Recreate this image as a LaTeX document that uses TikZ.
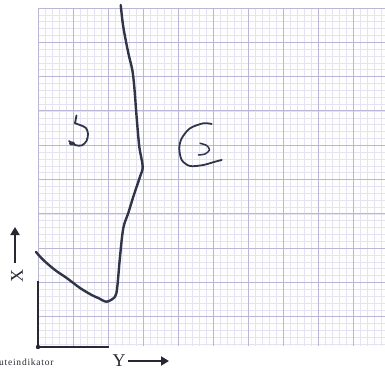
\documentclass[tikz,border=0pt]{standalone}
\usepackage{fontspec}
\setmainfont{Liberation Serif}
\usetikzlibrary{arrows.meta}
\definecolor{gmajor}{RGB}{186,183,214}
\definecolor{gminor}{RGB}{229,226,241}
\definecolor{ink}{RGB}{48,52,72}
\definecolor{axisink}{RGB}{40,40,50}
\tikzset{
  minorline/.style={gminor, line width=0.5pt},
  majorline/.style={gmajor, line width=0.8pt},
  penline/.style={ink, line width=2.4pt, line cap=round, line join=round},
  letterpen/.style={ink, line width=1.8pt, line cap=round, line join=round},
  axisline/.style={axisink, line width=2.4pt},
  labelarrow/.style={axisink, line width=1.8pt, -{Triangle[length=8pt,width=9pt]}},
}
\begin{document}
\begin{tikzpicture}[x=1pt,y=-1pt]
\useasboundingbox (0,0) rectangle (385,371);
\fill[white] (0,0) rectangle (385,371);
\fill[white!98!gminor] (38,8) rectangle (385,346);
% minor grid
\foreach \i in {0,...,49} {
  \draw[minorline] ({38+7*\i},8) -- ({38+7*\i},346);
}
\foreach \j in {0,...,49} {
  \draw[minorline] (38,{8+6.86*\j}) -- (385,{8+6.86*\j});
}
% major grid
\foreach \i in {0,...,9} {
  \draw[majorline] ({38+35*\i},8) -- ({38+35*\i},346);
}
\foreach \j in {0,...,9} {
  \draw[majorline] (38,{8+34.3*\j}) -- (385,{8+34.3*\j});
}
% curve
\draw[penline] plot[smooth, tension=0.5] coordinates {
 (120.7,5) (123.3,27) (128.3,53) (132.3,70) (134.3,87) (136.7,118)
 (139.3,146.7) (142.7,166.7) (140,176.7) (133.3,196.7) (128.3,213)
 (123.3,228) (120,256.7) (117.3,286.7) (115,296.7) (106.7,301.7)
 (98.3,298) (91.7,295) (80,288) (66.7,278) (55,270) (43.3,260) (36,252)};
% handwritten S
\draw[letterpen] plot[smooth, tension=0.5] coordinates {
 (75,123.3) (80,125) (86,128) (88,134) (86.5,141) (81.7,145.5) (75,145) (69,141)};
\draw[letterpen] (76.5,115.5) -- (75,123.3);
\fill[ink] (72,143.5) ellipse (3pt and 2pt);
% handwritten G
\draw[letterpen] plot[smooth, tension=0.5] coordinates {
 (211.7,124) (203.3,123.3) (190,128.3) (181.7,138.3) (179.3,148.3)
 (181.7,160) (190,166) (203.3,165) (215,161.7) (221.7,160)};
\draw[letterpen, line width=1.5pt] plot[smooth, tension=0.5] coordinates {
 (200,143.3) (206.7,145.5) (209.5,150) (205,154) (198.3,155)};
% axes
\coordinate (o) at (38,347);
\coordinate (xtop) at (38,281);
\coordinate (yend) at (109,347);
\draw[axisline] (xtop) -- (o) -- (yend);
\fill[axisink] (o) circle (2.2pt);
% labels
\node[font=\fontsize{18}{18}\selectfont, text=axisink, inner sep=0pt, rotate=90] (xlab) at (17,276) {X};
\coordinate (xa1) at (15,263);
\coordinate (xa2) at (15,227);
\draw[labelarrow] (xa1) -- (xa2);
\node[font=\fontsize{18}{18}\selectfont, text=axisink, inner sep=0pt] (ylab) at (119,361) {Y};
\coordinate (ya1) at (128,361);
\coordinate (ya2) at (169,361);
\draw[labelarrow] (ya1) -- (ya2);
\node[font=\fontsize{9.5}{10}\selectfont\addfontfeature{LetterSpace=8}, text=axisink, inner sep=0pt, anchor=west] (ind) at (-1,362.5) {uteindikator};
\end{tikzpicture}
\end{document}
